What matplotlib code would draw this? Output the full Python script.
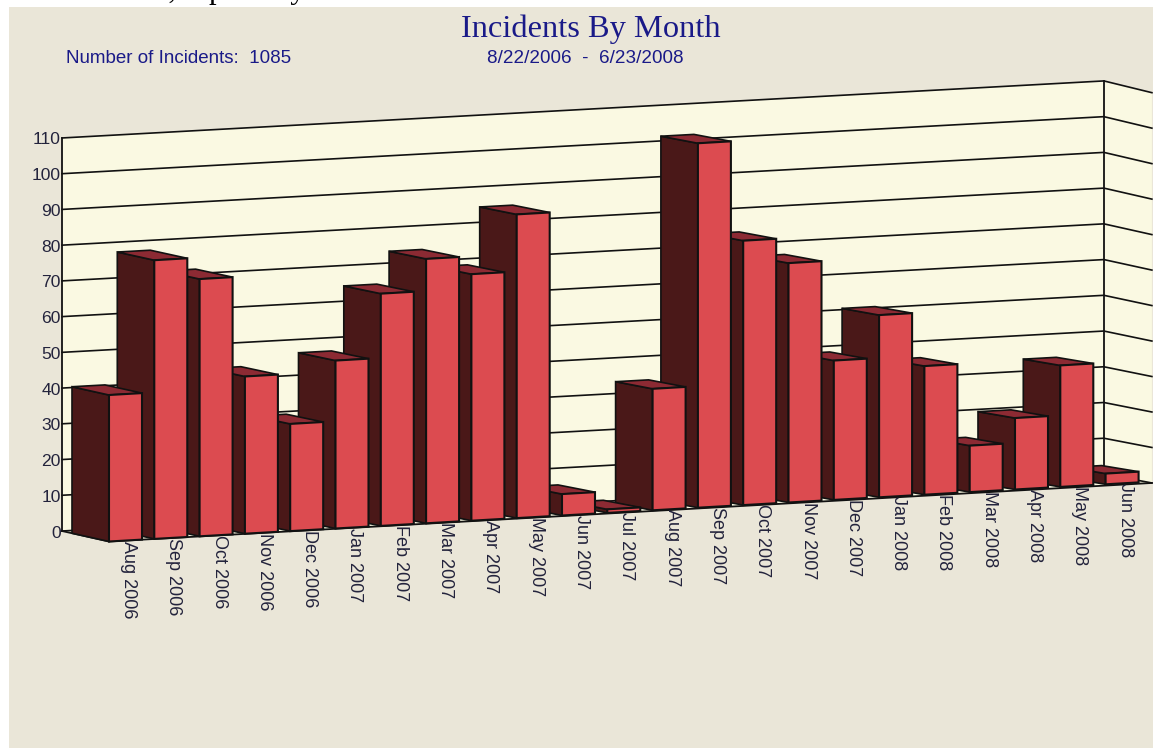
import matplotlib
matplotlib.use('Agg')
import matplotlib.pyplot as plt
from matplotlib.patches import Polygon, Rectangle

months = ['Aug 2006', 'Sep 2006', 'Oct 2006', 'Nov 2006', 'Dec 2006', 'Jan 2007',
          'Feb 2007', 'Mar 2007', 'Apr 2007', 'May 2007', 'Jun 2007', 'Jul 2007',
          'Aug 2007', 'Sep 2007', 'Oct 2007', 'Nov 2007', 'Dec 2007', 'Jan 2008',
          'Feb 2008', 'Mar 2008', 'Apr 2008', 'May 2008', 'Jun 2008']
incidents = [41, 78, 72, 44, 30, 47, 65, 74, 69, 85, 6, 1,
             34, 102, 74, 67, 39, 51, 36, 13, 20, 34, 3]
y_ticks = list(range(0, 120, 10))

BG = '#eae6d8'
WALL = '#faf9e2'
FRONT = '#dc4b50'
SIDE = '#4a1818'
TOP = '#8c2a33'
NAVY = '#1a1a88'
LABEL = '#23233c'
EDGE = '#111111'
SANS = 'Liberation Sans'
SERIF = 'Liberation Serif'

N_SLOTS = 23
BAR_W = 33 / 45.3
BAR_DEPTH = 37 / 47


def proj(m, v, depth=0.0):
    # oblique projection: month slot, value, depth (0 front, 1 back wall) to pixels
    x = 109 + 45.3 * m - 47 * depth
    y = 541.5 - (2.6 - 0.12 * depth) * m - 3.573 * v - 10.5 * depth
    return x, y


def wall_side(m, v):
    # right wall point, continues off the edge of the picture
    x, y = proj(m, v, 1)
    return x + 48, y + 9 + 0.025 * v


fig = plt.figure(figsize=(11.53, 7.48), dpi=100, facecolor='white')
ax = fig.add_axes([0, 0, 1, 1])
ax.set_xlim(0, 1153)
ax.set_ylim(748, 0)
ax.axis('off')

# clipped line of the page above the picture, only its lowest pixels show
ax.text(-34, -2.5, 'IS OSHA and so, especially those that should be handled as a serious violation.',
        family=SERIF, fontsize=22, color='black', ha='left', va='baseline', zorder=0)
ax.add_patch(Rectangle((9, 7), 1144, 741, facecolor=BG, edgecolor='none'))

# walls and floor
ymax = y_ticks[-1]
ax.add_patch(Polygon([proj(0, 0, 1), proj(0, ymax, 1), proj(N_SLOTS, ymax, 1), proj(N_SLOTS, 0, 1)],
                     facecolor=WALL, edgecolor='none'))
ax.add_patch(Polygon([proj(N_SLOTS, 0, 1), proj(N_SLOTS, ymax, 1), wall_side(N_SLOTS, ymax), wall_side(N_SLOTS, 0)],
                     facecolor=WALL, edgecolor='none'))
ax.add_patch(Polygon([proj(0, 0, 1), proj(0, 0, 0), wall_side(N_SLOTS, 0), proj(N_SLOTS, 0, 1)],
                     facecolor=WALL, edgecolor='none'))

for v in y_ticks:
    a, b = proj(0, v, 1), proj(N_SLOTS, v, 1)
    c = wall_side(N_SLOTS, v)
    ax.plot([a[0], b[0], c[0]], [a[1], b[1], c[1]], color=EDGE, lw=1.2, solid_joinstyle='miter')
    ax.text(a[0] - 1, a[1] + 2, str(v), family=SANS, fontsize=12.6, color=LABEL, ha='right', va='center')

for m in (0, N_SLOTS):
    a, b = proj(m, 0, 1), proj(m, ymax, 1)
    ax.plot([a[0], b[0]], [a[1], b[1]], color=EDGE, lw=1.3)
a, b, c = proj(0, 0, 1), proj(0, 0, 0), wall_side(N_SLOTS, 0)
ax.plot([a[0], b[0], c[0]], [a[1], b[1], c[1]], color=EDGE, lw=1.3)

# later months first, each bar covers the side of the next one
for m in range(len(months) - 1, -1, -1):
    v = incidents[m]
    r = m + BAR_W
    ax.add_patch(Polygon([proj(m, 0, 0), proj(m, v, 0), proj(m, v, BAR_DEPTH), proj(m, 0, BAR_DEPTH)],
                         facecolor=SIDE, edgecolor=EDGE, lw=1.2, joinstyle='miter', zorder=3))
    ax.add_patch(Polygon([proj(m, v, 0), proj(r, v, 0), proj(r, v, BAR_DEPTH), proj(m, v, BAR_DEPTH)],
                         facecolor=TOP, edgecolor=EDGE, lw=1.2, joinstyle='miter', zorder=3))
    ax.add_patch(Polygon([proj(m, 0, 0), proj(r, 0, 0), proj(r, v, 0), proj(m, v, 0)],
                         facecolor=FRONT, edgecolor=EDGE, lw=1.5, joinstyle='miter', zorder=3))

for m, name in enumerate(months):
    x, y = proj(m + BAR_W / 2, 0, 0)
    ax.text(x + 3, y, name, family=SANS, fontsize=13, color=LABEL,
            rotation=270, ha='center', va='top', zorder=4)

ax.text(591, 29, 'Incidents By Month', family=SERIF, fontsize=23.4, color=NAVY, ha='center', va='center')
ax.text(66, 58.5, 'Number of Incidents:  1085', family=SANS, fontsize=13.5, color=NAVY, ha='left', va='center')
ax.text(585, 58.5, '8/22/2006  -  6/23/2008', family=SANS, fontsize=13.6, color=NAVY, ha='center', va='center')

fig.savefig('out.png', dpi=100, facecolor='white')
